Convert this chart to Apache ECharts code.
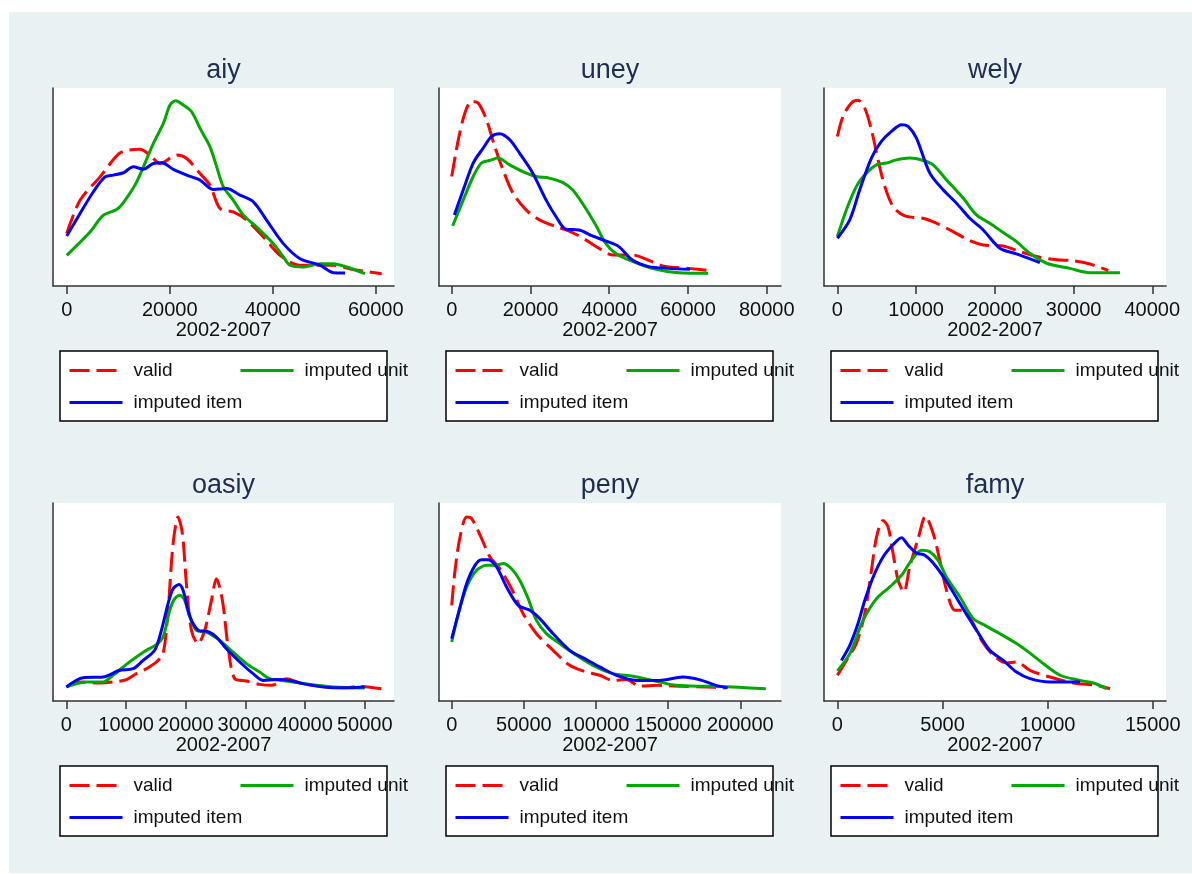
<!DOCTYPE html>
<html>
<head>
<meta charset="utf-8">
<script src="https://cdn.jsdelivr.net/npm/echarts@6/dist/echarts.min.js"></script>
<style>
  html, body { margin: 0; padding: 0; background: #fff; }
  #wrap { position: relative; width: 1192px; height: 874px; }
  #bg { position: absolute; left: 9px; top: 12px; width: 1183px; height: 861px; background: #e9f1f3; }
  #main { position: absolute; left: 0; top: 0; width: 1192px; height: 874px; }
</style>
</head>
<body>
<div id="wrap"><div id="bg"></div><div id="main"></div></div>
<script>
// density curves, y = share of plot height (0-100)
const aiyValid = [[0,26.5],[2590,43.3],[6470,55.1],[10030,66.6],[11970,68.6],[14240,69.1],[16180,66.1],[18120,61.9],[21360,66.1],[23300,64.4],[25890,56.8],[27830,50.9],[29770,39.1],[32360,37.4],[34950,33.2],[38180,24.8],[41420,15.5],[45300,10.5],[51780,10.5],[55660,8.3],[61160,6.2]];
const aiyUnit = [[0,15.5],[4530,27.3],[7120,35.8],[9710,38.6],[11330,43.3],[13590,52.6],[16830,72.0],[18770,82.1],[20060,91.4],[21160,93.6],[22650,91.4],[24270,88.0],[25890,79.6],[27830,70.3],[29120,60.2],[30420,50.1],[32360,43.3],[34300,35.8],[36890,29.8],[40130,21.4],[42070,14.7],[43360,10.5],[45950,9.6],[49190,11.3],[51780,11.3],[54360,9.6],[57930,6.2]];
const aiyItem = [[0,25.3],[2590,36.6],[5180,47.6],[7440,55.1],[9060,56.0],[11000,57.2],[12940,60.2],[14880,59.0],[16830,61.9],[18450,62.2],[20710,58.9],[23300,56.0],[25890,53.5],[28480,48.7],[31070,49.2],[33650,45.9],[36240,42.5],[38830,33.2],[42070,21.4],[45300,13.8],[49190,10.5],[51780,6.7],[54040,6.6]];

const uneyValid = [[0,55.3],[1680,73.9],[3360,87.4],[5040,93.3],[6720,92.4],[8820,84.0],[10920,70.5],[13020,58.7],[15550,46.9],[18910,38.4],[22270,33.4],[26470,30.0],[30670,27.0],[34030,23.3],[37390,19.1],[40750,15.7],[45800,15.7],[50840,12.3],[54200,9.8],[60080,8.9],[65540,7.8]];
const uneyUnit = [[250,30.4],[2940,43.5],[5460,55.3],[7560,62.1],[9660,63.4],[11760,64.6],[14710,61.2],[18070,57.8],[21430,55.3],[24790,54.5],[28150,52.3],[30670,48.6],[33190,41.8],[36550,30.9],[39070,21.6],[41600,16.5],[44960,13.2],[50840,8.9],[57560,6.7],[65120,6.4]];
const uneyItem = [[670,35.9],[2940,48.6],[5460,62.1],[7980,69.6],[10080,75.5],[12180,76.9],[14710,73.9],[17230,67.1],[20590,57.0],[23950,43.5],[26470,35.1],[28990,28.7],[32350,28.3],[35710,25.3],[39070,22.8],[42440,19.9],[45800,13.2],[50000,9.8],[55040,8.9],[60500,8.4]];

const welyValid = [[0,75.5],[720,85.7],[1780,92.4],[2630,93.8],[3470,89.9],[4320,78.9],[5170,63.7],[6020,50.3],[7080,40.1],[8560,35.4],[10890,34.2],[12580,31.7],[14700,27.5],[16820,22.9],[18520,20.7],[21060,20.2],[23180,17.4],[25720,14.5],[27840,13.2],[29960,12.8],[32070,11.1],[34400,7.8]];
const welyUnit = [[0,25.0],[1140,38.4],[2420,50.3],[3690,57.0],[4960,61.2],[6230,62.1],[7500,63.7],[9190,64.6],[10890,63.4],[12160,61.2],[13860,53.6],[15970,44.4],[17670,35.9],[19360,31.7],[21060,27.0],[22750,22.4],[24450,16.5],[26570,11.5],[29530,8.9],[32070,6.7],[35890,6.7]];
const welyItem = [[0,24.1],[1570,33.4],[2840,48.6],[4320,64.6],[5590,73.0],[6860,78.1],[8140,81.5],[8980,80.6],[10040,74.7],[11740,57.0],[13430,48.6],[15130,41.8],[16820,34.2],[18520,28.3],[20630,19.1],[22750,16.2],[25720,11.8]];

const oasiyValid = [[0,7.1],[2230,9.6],[5590,9.1],[7820,9.6],[10060,10.8],[11730,13.8],[13410,16.3],[15080,19.7],[16200,23.9],[17040,45.8],[17880,79.5],[18720,92.9],[19440,84.5],[20110,59.3],[20950,35.7],[22070,29.0],[23190,35.7],[24310,50.8],[25140,61.8],[26150,50.8],[27100,27.3],[28210,11.3],[30170,10.1],[32400,8.4],[34360,7.9],[36870,11.3],[39110,9.1],[42460,7.4],[46930,6.7],[49160,7.4],[52790,6.2]];
const oasiyUnit = [[0,7.1],[3350,9.6],[6150,9.6],[7820,13.0],[10060,18.5],[11730,22.2],[13410,25.6],[15080,28.5],[16200,32.3],[17320,45.8],[18160,51.7],[19000,53.4],[19830,50.8],[20670,42.4],[21790,35.7],[23460,34.8],[25700,30.6],[27930,24.7],[30170,18.9],[32400,14.6],[34080,11.3],[36310,10.4],[39110,9.1],[44700,7.1],[50000,6.6]];
const oasiyItem = [[0,7.1],[2790,11.8],[6150,12.1],[8940,15.5],[11170,16.3],[12850,20.5],[14800,25.6],[15920,35.7],[17040,49.2],[17880,56.7],[18880,58.8],[19550,55.9],[20390,45.8],[21230,39.1],[22350,35.4],[23460,35.2],[25140,32.3],[26820,26.4],[29050,19.7],[31290,13.8],[32960,10.4],[35200,10.9],[37430,10.4],[40230,8.4],[44700,6.7],[47490,6.7],[50000,7.1]];

const penyValid = [[0,48.3],[2300,66.0],[5760,82.8],[10370,92.9],[13820,92.1],[20740,82.0],[26500,72.7],[33410,66.8],[41470,56.7],[49540,44.1],[58750,34.0],[70270,25.6],[81790,18.0],[91010,15.2],[102530,13.0],[111740,10.4],[120960,10.9],[130180,7.6],[144000,7.9],[160130,7.4],[176260,7.1],[190080,6.6]];
const penyUnit = [[0,29.8],[4610,44.1],[10370,57.6],[17280,66.0],[24190,68.5],[29950,68.5],[35710,69.4],[41470,66.8],[47230,60.9],[52990,51.7],[58750,40.7],[65660,34.0],[74880,29.0],[86400,23.1],[97920,18.0],[111740,13.8],[125570,12.5],[139390,10.4],[155520,7.9],[176260,7.4],[194690,7.1],[217730,6.2]];
const penyItem = [[0,31.5],[4610,44.1],[10370,59.3],[16130,68.5],[20740,71.4],[25340,71.4],[31100,67.7],[38020,57.6],[46080,48.3],[54140,45.8],[61060,41.6],[70270,34.0],[81790,25.6],[93310,20.9],[102530,17.2],[114050,13.0],[127870,10.4],[144000,10.4],[160130,12.1],[171650,10.8],[183170,7.9],[191240,6.7]];

const famyValid = [[0,13.0],[430,20.5],[900,29.0],[1300,44.1],[1620,66.0],[1860,82.8],[2170,91.2],[2410,87.9],[2650,74.4],[2890,60.9],[3160,55.1],[3440,67.7],[3840,82.0],[4190,93.3],[4560,84.5],[4870,71.0],[5190,55.9],[5590,45.8],[5980,45.8],[6380,40.7],[6860,30.6],[7410,23.1],[8050,19.2],[8520,19.7],[9160,15.5],[10110,12.1],[11220,9.1],[12330,7.9],[12970,6.2]];
const famyUnit = [[0,15.2],[590,23.9],[1220,40.7],[1860,51.7],[2490,57.6],[3050,63.5],[3520,71.0],[4000,76.1],[4400,75.3],[4790,71.0],[5190,62.6],[5830,52.5],[6460,41.6],[6940,38.7],[7730,34.0],[8520,29.0],[9160,24.2],[9790,18.9],[10590,13.0],[11540,10.4],[12170,9.1],[12810,6.2]];
const famyItem = [[190,20.5],[590,28.1],[980,39.1],[1300,50.8],[1700,62.6],[2170,72.7],[2650,79.0],[3050,82.5],[3370,78.6],[3760,74.7],[4160,73.6],[4710,67.7],[5350,57.6],[5980,46.6],[6620,35.7],[7250,25.6],[7890,20.5],[8520,14.6],[9160,11.3],[10110,9.6],[11540,9.6]];

// tick labels
const aiyTicks = [0, 20000, 40000, 60000];
const uneyTicks = [0, 20000, 40000, 60000, 80000];
const welyTicks = [0, 10000, 20000, 30000, 40000];
const oasiyTicks = [0, 10000, 20000, 30000, 40000, 50000];
const penyTicks = [0, 50000, 100000, 150000, 200000];
const famyTicks = [0, 5000, 10000, 15000];

const seriesNames = ['valid', 'imputed unit', 'imputed item'];
const xTitle = '2002-2007';

const panels = [
  { title: 'aiy', lines: [aiyValid, aiyUnit, aiyItem], ticks: aiyTicks, min: -2660, max: 63550 },
  { title: 'uney', lines: [uneyValid, uneyUnit, uneyItem], ticks: uneyTicks, min: -3225, max: 83630 },
  { title: 'wely', lines: [welyValid, welyUnit, welyItem], ticks: welyTicks, min: -1700, max: 41740 },
  { title: 'oasiy', lines: [oasiyValid, oasiyUnit, oasiyItem], ticks: oasiyTicks, min: -2250, max: 54910 },
  { title: 'peny', lines: [penyValid, penyUnit, penyItem], ticks: penyTicks, min: -8810, max: 228220 },
  { title: 'famy', lines: [famyValid, famyUnit, famyItem], ticks: famyTicks, min: -638, max: 15630 }
];

const FONT = "'Liberation Sans', Arial, sans-serif";
const colors = ['#ff0000', '#00a800', '#0000ff'];
const dash = [20, 7];
const colLeft = [53, 439, 824];
const colRight = [394, 781, 1166];
const rowTop = [88, 503];
const plotH = 198;

const option = {
  animation: false,
  textStyle: { fontFamily: FONT },
  title: [],
  grid: [],
  xAxis: [],
  yAxis: [],
  legend: [],
  series: [],
  graphic: []
};

panels.forEach(function (p, i) {
  const col = i % 3, row = Math.floor(i / 3);
  const left = colLeft[col], right = colRight[col], top = rowTop[row];
  const width = right - left;

  option.title.push({
    text: p.title,
    left: left + width / 2,
    top: top - 31,
    textAlign: 'center',
    padding: 0,
    textStyle: { fontSize: 27, fontWeight: 'normal', color: '#1f2d50', fontFamily: FONT }
  });

  option.grid.push({
    left: left, top: top, width: width, height: plotH,
    show: true, backgroundColor: '#fff', borderWidth: 0
  });

  option.xAxis.push({
    type: 'value', gridIndex: i, min: p.min, max: p.max,
    name: xTitle, nameLocation: 'middle', nameGap: 32,
    nameTextStyle: { fontSize: 20, color: '#111', fontFamily: FONT },
    axisLine: { show: true, onZero: false, lineStyle: { color: '#333', width: 1.5 } },
    axisTick: { show: true, length: 8, customValues: p.ticks, lineStyle: { color: '#333', width: 1.5 } },
    axisLabel: {
      customValues: p.ticks, fontSize: 20, color: '#111', margin: 14, fontFamily: FONT,
      formatter: function (v) { return String(v); }
    },
    splitLine: { show: false }
  });

  option.yAxis.push({
    type: 'value', gridIndex: i, min: 0, max: 100,
    axisLine: { show: true, onZero: false, lineStyle: { color: '#333', width: 1.5 } },
    axisTick: { show: false }, axisLabel: { show: false }, splitLine: { show: false }
  });

  p.lines.forEach(function (d, k) {
    option.series.push({
      name: seriesNames[k], type: 'line', xAxisIndex: i, yAxisIndex: i,
      data: d, showSymbol: false, symbol: 'none', smooth: 0.3,
      color: colors[k],
      lineStyle: { color: colors[k], width: 3, type: k === 0 ? dash : 'solid' },
      z: k === 2 ? 4 : 3
    });
  });

  // legend box
  const bx = left + 7, by = top + plotH + 65;
  option.graphic.push({
    type: 'rect', shape: { x: bx, y: by, width: 327, height: 70 },
    style: { fill: '#fff', stroke: '#000', lineWidth: 1.5 }
  });
  const spots = [[bx + 8, by + 20], [bx + 179, by + 20], [bx + 8, by + 52]];
  seriesNames.forEach(function (n, k) {
    option.legend.push({
      data: [n], left: spots[k][0], top: spots[k][1] - 10, padding: 0,
      itemWidth: 53, itemHeight: 20, selectedMode: false,
      itemStyle: { opacity: 0 },
      lineStyle: { color: colors[k], width: 3, type: k === 0 ? dash : 'solid', opacity: 1 },
      textStyle: { fontSize: 19, color: '#111', fontFamily: FONT, padding: [0, 0, 0, 6] }
    });
  });
});

const chart = echarts.init(document.getElementById('main'));
chart.setOption(option);
</script>
</body>
</html>
